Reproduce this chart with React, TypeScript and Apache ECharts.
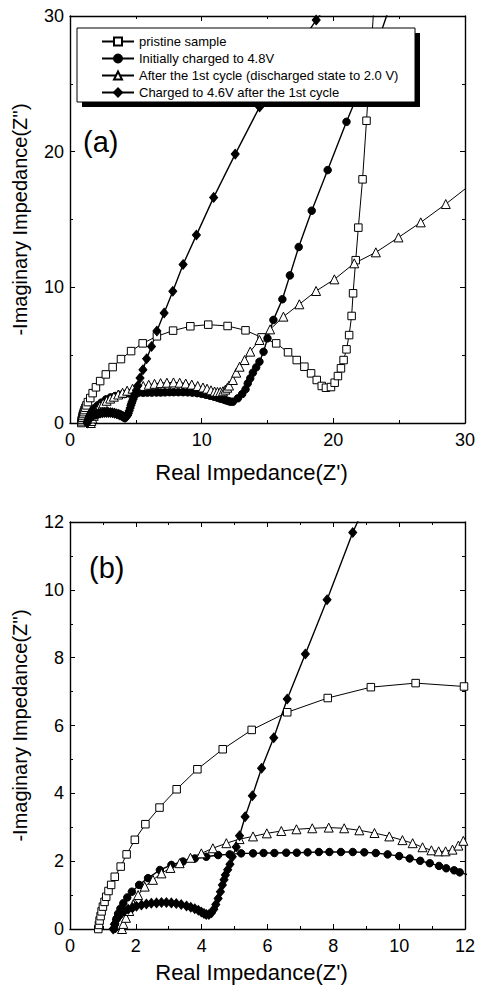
import React, { useEffect, useRef } from "react";
import * as echarts from "echarts";

const FONT = "'Liberation Sans', Arial, Helvetica, sans-serif";

const seriesNames = [
  "pristine sample",
  "Initially charged to 4.8V",
  "After the 1st cycle (discharged state to 2.0 V)",
  "Charged to 4.6V after the 1st cycle",
];

const xTicksA = { min: 0, max: 30, interval: 10 };
const yTicksA = { min: 0, max: 30, interval: 10 };
const xTicksB = { min: 0, max: 12, interval: 2 };
const yTicksB = { min: 0, max: 12, interval: 2 };

const pristine: number[][] = [
  [0.86, 0], [0.88, 0.12], [0.9, 0.25], [0.93, 0.38], [0.96, 0.52], [1.0, 0.66], [1.05, 0.8],
  [1.1, 0.95], [1.17, 1.12], [1.25, 1.3], [1.36, 1.54], [1.54, 1.84], [1.72, 2.2], [1.97, 2.63],
  [2.29, 3.09], [2.72, 3.58], [3.24, 4.12], [3.87, 4.71], [4.64, 5.3], [5.52, 5.87], [6.6, 6.39],
  [7.83, 6.81], [9.14, 7.13], [10.5, 7.25], [11.97, 7.15], [13.33, 6.83], [14.55, 6.31],
  [15.66, 5.87], [16.56, 5.21], [17.22, 4.64], [17.8, 4.15], [18.31, 3.66], [18.74, 3.17],
  [19.12, 2.73], [19.44, 2.6], [19.82, 2.65], [20.1, 2.97], [20.35, 3.46], [20.58, 4.03],
  [20.78, 4.64], [21.0, 5.43], [21.2, 6.48], [21.39, 7.89], [21.5, 9.56], [21.7, 12.0],
  [21.9, 14.4], [22.22, 17.96], [22.52, 22.28], [22.8, 26.5], [23.1, 31],
];

const charged48: number[][] = [
  [1.34, 0], [1.37, 0.15], [1.41, 0.3], [1.46, 0.45], [1.53, 0.6], [1.62, 0.76], [1.74, 0.93],
  [1.88, 1.1], [2.1, 1.3], [2.37, 1.5], [2.73, 1.74], [3.08, 1.89], [3.43, 1.99], [3.79, 2.08],
  [4.14, 2.13], [4.5, 2.18], [4.85, 2.2], [5.2, 2.23], [5.56, 2.23], [5.88, 2.24], [6.21, 2.24],
  [6.57, 2.25], [6.89, 2.25], [7.22, 2.26], [7.56, 2.27], [7.88, 2.27], [8.23, 2.27], [8.59, 2.27],
  [8.94, 2.26], [9.29, 2.24], [9.65, 2.2], [10.0, 2.15], [10.32, 2.08], [10.64, 2.01],
  [10.93, 1.94], [11.21, 1.86], [11.43, 1.79], [11.67, 1.73], [11.84, 1.67], [12.02, 1.62],
  [12.18, 1.57], [12.37, 1.57], [12.75, 1.82], [13.08, 2.14], [13.33, 2.48], [13.5, 2.92],
  [13.69, 3.29], [13.89, 3.71], [14.14, 4.1], [14.39, 4.52], [14.7, 5.25], [15.0, 6.24],
  [15.45, 7.6], [16.13, 9.12], [16.7, 10.88], [17.37, 12.97], [18.36, 15.65], [19.57, 18.64],
  [21.0, 22.2], [22.2, 25.0], [23.3, 27.9], [24.4, 31],
];

const afterCycle: number[][] = [
  [1.58, 0], [1.62, 0.15], [1.7, 0.33], [1.8, 0.53], [1.92, 0.73], [2.07, 1.0], [2.27, 1.25],
  [2.52, 1.45], [2.78, 1.64], [3.05, 1.8], [3.33, 1.94], [3.66, 2.1], [3.99, 2.23], [4.34, 2.38],
  [4.75, 2.53], [5.15, 2.65], [5.56, 2.73], [5.98, 2.82], [6.42, 2.89], [6.88, 2.94], [7.36, 2.97],
  [7.86, 2.99], [8.33, 2.97], [8.79, 2.91], [9.25, 2.83], [9.7, 2.73], [10.1, 2.62], [10.41, 2.53],
  [10.71, 2.41], [10.98, 2.32], [11.2, 2.29], [11.41, 2.29], [11.62, 2.34], [11.8, 2.46],
  [11.95, 2.6], [12.08, 2.76], [12.37, 3.17], [12.63, 3.71], [12.88, 4.15], [13.26, 4.64],
  [13.69, 5.26], [14.39, 6.12], [15.2, 6.9], [16.21, 7.84], [17.42, 8.75], [18.69, 9.73],
  [20.08, 10.59], [21.59, 11.77], [23.23, 12.58], [24.95, 13.68], [26.64, 14.79], [28.54, 16.14],
  [30.4, 17.55],
];

const charged46: number[][] = [
  [1.31, 0], [1.35, 0.14], [1.41, 0.27], [1.48, 0.37], [1.56, 0.46], [1.66, 0.53], [1.77, 0.58],
  [1.9, 0.63], [2.02, 0.67], [2.17, 0.71], [2.32, 0.74], [2.47, 0.76], [2.63, 0.77], [2.78, 0.78],
  [2.93, 0.78], [3.08, 0.77], [3.23, 0.75], [3.38, 0.72], [3.54, 0.68], [3.67, 0.64], [3.79, 0.6],
  [3.9, 0.55], [3.99, 0.5], [4.07, 0.46], [4.14, 0.43], [4.22, 0.43], [4.3, 0.48], [4.37, 0.58],
  [4.43, 0.72], [4.5, 0.9], [4.57, 1.1], [4.63, 1.3], [4.68, 1.45], [4.72, 1.59], [4.79, 1.75],
  [4.86, 1.91], [4.93, 2.13], [5.05, 2.42], [5.15, 2.75], [5.32, 3.31], [5.54, 3.93], [5.82, 4.74],
  [6.19, 5.64], [6.6, 6.78], [7.15, 8.11], [7.81, 9.71], [8.59, 11.69], [9.6, 13.85],
  [10.91, 16.63], [12.55, 19.82], [14.4, 23.3], [16.5, 26.6], [18.7, 29.7], [20.9, 32.6],
];

const seriesData = [pristine, charged48, afterCycle, charged46];

const symbolDefs = [
  { symbol: "rect", size: 7.5, fill: "#fff", lw: 1 },
  { symbol: "circle", size: 7.5, fill: "#000", lw: 1.4 },
  { symbol: "triangle", size: 9, fill: "#fff", lw: 1 },
  { symbol: "diamond", size: [8, 9.5], fill: "#000", lw: 1.4 },
];

function xAxisDef(grid: number, t: any, pos: string, labels: boolean, nameGap: number) {
  return {
    type: "value",
    gridIndex: grid,
    position: pos,
    min: t.min,
    max: t.max,
    interval: t.interval,
    name: labels ? "Real Impedance(Z')" : "",
    nameLocation: "middle",
    nameGap,
    nameTextStyle: { fontSize: 22, color: "#000", fontFamily: FONT, padding: [0, 32, 0, 0] },
    axisLine: { show: true, onZero: false, lineStyle: { color: "#000", width: 1.4 } },
    axisTick: { show: true, inside: true, length: 5, lineStyle: { color: "#000", width: 1 } },
    minorTick: { show: true, splitNumber: 2, length: 3, lineStyle: { color: "#000", width: 1 } },
    axisLabel: { show: labels, fontSize: 18, color: "#000", fontFamily: FONT, margin: 8 },
    splitLine: { show: false },
    minorSplitLine: { show: false },
  };
}

function yAxisDef(grid: number, t: any, pos: string, labels: boolean) {
  return {
    type: "value",
    gridIndex: grid,
    position: pos,
    min: t.min,
    max: t.max,
    interval: t.interval,
    name: labels ? "-Imaginary Impedance(Z'')" : "",
    nameLocation: "middle",
    nameGap: 40,
    nameTextStyle: { fontSize: 20, color: "#000", fontFamily: FONT },
    axisLine: { show: true, onZero: false, lineStyle: { color: "#000", width: 1.4 } },
    axisTick: { show: true, inside: true, length: 5, lineStyle: { color: "#000", width: 1 } },
    minorTick: { show: true, splitNumber: 2, length: 3, lineStyle: { color: "#000", width: 1 } },
    axisLabel: { show: labels, fontSize: 18, color: "#000", fontFamily: FONT, margin: 6 },
    splitLine: { show: false },
    minorSplitLine: { show: false },
  };
}

export default function App() {
  const ref = useRef<HTMLDivElement>(null);

  useEffect(() => {
    if (!ref.current) return;
    const chart = echarts.init(ref.current, undefined, { renderer: "svg" });

    const series: any[] = [];
    [0, 1].forEach((g) => {
      seriesData.forEach((d, i) => {
        const s = symbolDefs[i];
        series.push({
          type: "line",
          name: seriesNames[i],
          xAxisIndex: g * 2,
          yAxisIndex: g * 2,
          data: d,
          clip: true,
          showAllSymbol: true,
          symbol: s.symbol,
          symbolSize: s.size,
          smooth: false,
          lineStyle: { color: "#000", width: s.lw },
          itemStyle: { color: s.fill, borderColor: "#000", borderWidth: 1 },
          emphasis: { disabled: true },
          z: 2,
        });
      });
    });

    chart.setOption({
      animation: false,
      backgroundColor: "#fff",
      textStyle: { fontFamily: FONT },
      grid: [
        { left: 70, top: 16, width: 396, height: 407 },
        { left: 70, top: 522, width: 396, height: 407 },
      ],
      xAxis: [
        xAxisDef(0, xTicksA, "bottom", true, 38),
        xAxisDef(0, xTicksA, "top", false, 0),
        xAxisDef(1, xTicksB, "bottom", true, 32),
        xAxisDef(1, xTicksB, "top", false, 0),
      ],
      yAxis: [
        yAxisDef(0, yTicksA, "left", true),
        yAxisDef(0, yTicksA, "right", false),
        yAxisDef(1, yTicksB, "left", true),
        yAxisDef(1, yTicksB, "right", false),
      ],
      legend: {
        data: seriesNames,
        orient: "vertical",
        left: 101,
        top: 35,
        itemWidth: 32,
        itemHeight: 10,
        itemGap: 4,
        padding: 0,
        selectedMode: false,
        z: 10,
        textStyle: { fontSize: 13, color: "#000", fontFamily: FONT },
      },
      graphic: [
        { type: "rect", z: 5, shape: { x: 82, y: 33, width: 338, height: 74 }, style: { fill: "#000" } },
        {
          type: "rect",
          z: 6,
          shape: { x: 77, y: 28, width: 338, height: 74 },
          style: { fill: "#fff", stroke: "#000", lineWidth: 1 },
        },
        { type: "text", z: 6, left: 83, top: 127, style: { text: "(a)", fontSize: 29, fill: "#000", fontFamily: FONT } },
        { type: "text", z: 6, left: 89, top: 553, style: { text: "(b)", fontSize: 29, fill: "#000", fontFamily: FONT } },
      ],
      series,
    });

    return () => chart.dispose();
  }, []);

  return <div ref={ref} style={{ position: "absolute", left: 0, top: 0, width: 478, height: 997 }} />;
}
